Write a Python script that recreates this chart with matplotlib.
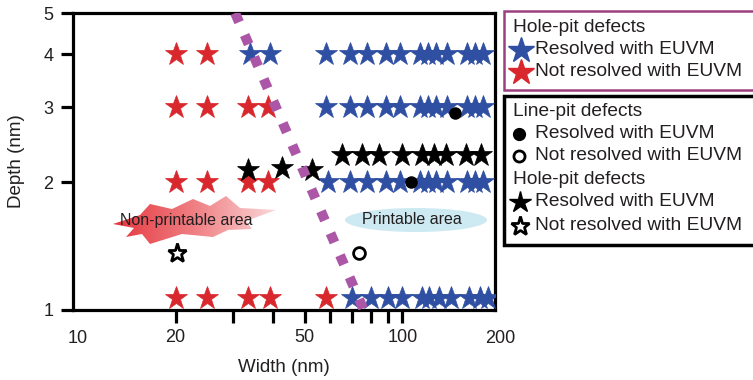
import matplotlib
matplotlib.use('Agg')
import matplotlib.pyplot as plt
import numpy as np
from matplotlib.lines import Line2D
from matplotlib.patches import Polygon, Ellipse, Rectangle
from matplotlib.ticker import FixedLocator, FixedFormatter, NullLocator
from matplotlib.colors import LinearSegmentedColormap
import matplotlib.transforms as mtransforms

plt.rcParams['font.family'] = ['Liberation Sans', 'DejaVu Sans']
TXT = '#231f20'

# ---------------- data ----------------
depth_rows = [4.0, 3.0, 2.0, 1.07]
# hole-pit, resolved with EUVM (blue stars)
blue_w_d4 = [34, 39, 58, 69, 78, 89, 98, 113, 120, 127, 137, 158, 167, 177]
blue_w_d3 = [58, 69, 78, 89, 98, 113, 120, 127, 137, 158, 167, 177]
blue_w_d2 = [59, 69, 78, 89, 98, 113, 120, 127, 137, 158, 167, 177]
blue_w_d1 = [70, 80, 90, 100, 115, 121, 130, 141, 160, 174, 183]
# hole-pit, not resolved (red stars)
red_w_d4 = [20, 25]
red_w_d3 = [20, 25, 33.5, 38.5]
red_w_d2 = [20, 25, 33.5, 38.5]
red_w_d1 = [20, 25, 33.5, 39, 58]
# second data set: hole-pit resolved (black stars)
black_star_w = [33.5, 42.5, 52.5, 65, 75, 85, 100, 115, 125, 136, 157, 175]
black_star_d = [2.14, 2.16, 2.14, 2.32, 2.32, 2.32, 2.32, 2.32, 2.32, 2.32, 2.32, 2.32]
# hole-pit not resolved (open star)
open_star_w = [20.2]
open_star_d = [1.36]
# line-pit resolved (black dots)
dot_w = [145, 106]
dot_d = [2.91, 2.0]
# line-pit not resolved (open circle)
open_dot_w = [73.7]
open_dot_d = [1.36]
# printability boundary
boundary_w = [30.5, 76]
boundary_d = [5.0, 1.0]

x_tick_vals = [20, 30, 40, 50, 60, 70, 80, 90, 100]
x_tick_labels = ['20', '', '', '50', '', '', '', '', '100']
x_edge_labels = ['10', '200']
x_edge_vals = [10, 200]
y_tick_vals = [1, 2, 3, 4, 5]
y_tick_labels = ['1', '2', '3', '4', '5']

BLUE = '#2f4fa2'
RED = '#d8282e'
PURPLE = '#ab56a6'

W, H = 753, 380
fig = plt.figure(figsize=(W / 100, H / 100), dpi=100)
L, R, T, B = 73, 495, 13, 310
ax = fig.add_axes([L / W, 1 - B / H, (R - L) / W, (B - T) / H])
ax.set_xscale('log')
ax.set_yscale('log')

# ---------- decorations (axes coords) ----------
def pa(px, py):
    return ((px - L) / (R - L), (B - py) / (B - T))

burst_px = [(113, 224), (140, 215), (150, 204), (172, 209), (193, 199), (210, 206),
            (226, 196), (240, 208), (276, 210), (246, 221), (252, 229), (228, 230),
            (213, 237), (182, 234), (150, 244), (142, 234), (126, 237), (134, 228)]
burst = Polygon([pa(*p) for p in burst_px], closed=True, transform=ax.transAxes,
                facecolor='none', edgecolor='none')
ax.add_patch(burst)
grad = np.linspace(0, 1, 256).reshape(1, -1)
cmap = LinearSegmentedColormap.from_list('burst', ['#e4343b', '#ef7f83', '#fbd9da'])
x0, y0 = pa(110, 246)
x1, y1 = pa(278, 194)
im = ax.imshow(grad, cmap=cmap, extent=(x0, x1, y0, y1), transform=ax.transAxes,
               aspect='auto', zorder=1, interpolation='bilinear')
im.set_clip_path(burst)

ec, ey = pa(416, 220)
ell = Ellipse((ec, ey), 142 / (R - L), 24 / (B - T), transform=ax.transAxes,
              facecolor='#cde9f1', edgecolor='none', zorder=1)
ax.add_patch(ell)

tx, ty = pa(186, 220)
ax.text(tx, ty, 'Non-printable area', transform=ax.transAxes, ha='center', va='center',
        fontsize=11.5, color=TXT, zorder=2)
tx, ty = pa(412, 219)
ax.text(tx, ty, 'Printable area', transform=ax.transAxes, ha='center', va='center',
        fontsize=11.5, color=TXT, zorder=2)

# ---------- data marks ----------
star_ms = 17
for ws, d in zip([red_w_d4, red_w_d3, red_w_d2, red_w_d1], depth_rows):
    ax.plot(ws, [d] * len(ws), linestyle='none', marker='*', ms=star_ms,
            color=RED, mec=RED, mew=0.5, zorder=3)
for ws, d in zip([blue_w_d4, blue_w_d3, blue_w_d2, blue_w_d1], depth_rows):
    ax.plot(ws, [d] * len(ws), linestyle='none', marker='*', ms=star_ms,
            color=BLUE, mec=BLUE, mew=0.5, zorder=3)
ax.plot(black_star_w, black_star_d, linestyle='none', marker='*', ms=star_ms,
        color='black', mec='black', mew=0.5, zorder=4)
ax.plot(open_star_w, open_star_d, linestyle='none', marker='*', ms=14,
        mfc='white', mec='black', mew=2.0, zorder=4)
ax.plot(dot_w, dot_d, linestyle='none', marker='o', ms=8,
        color='black', zorder=5)
ax.plot(open_dot_w, open_dot_d, linestyle='none', marker='o', ms=8.5,
        mfc='white', mec='black', mew=2.0, zorder=5)

ax.plot(boundary_w, boundary_d, color=PURPLE, lw=7.2, dashes=(1.0, 1.4),
        solid_capstyle='butt', dash_capstyle='butt', zorder=6)

# ---------- axes ----------
ax.set_xlim(9.65, 193)
ax.set_ylim(1, 5)
for s in ax.spines.values():
    s.set_linewidth(2.3)
ax.xaxis.set_major_locator(FixedLocator(x_tick_vals))
ax.xaxis.set_major_formatter(FixedFormatter(x_tick_labels))
ax.xaxis.set_minor_locator(NullLocator())
ax.yaxis.set_major_locator(FixedLocator(y_tick_vals))
ax.yaxis.set_major_formatter(FixedFormatter(y_tick_labels))
ax.yaxis.set_minor_locator(NullLocator())
ax.tick_params(axis='both', direction='out', length=9, width=2.3, colors='black',
               labelcolor=TXT, labelsize=13)
ax.tick_params(axis='x', pad=5)
ax.tick_params(axis='y', pad=5)
for t in ax.yaxis.get_major_ticks():
    if t.get_loc() in (1, 5):
        t.tick1line.set_visible(False)
trans = mtransforms.blended_transform_factory(ax.transData, ax.transAxes)
for v, lab in zip(x_edge_vals, x_edge_labels):
    ax.text(v, -28.3 / (B - T), lab, transform=trans, ha='center', va='center',
            fontsize=13, color=TXT, clip_on=False)

ax.set_xlabel('Width (nm)', fontsize=13.5, color=TXT, labelpad=9)
ax.set_ylabel('Depth (nm)', fontsize=13.5, color=TXT, labelpad=13)

# ---------- legends (figure coords) ----------
def pf(px, py):
    return (px / W, 1 - py / H)

r1 = Rectangle(pf(504, 90), 300 / W, 79 / H, transform=fig.transFigure,
               facecolor='white', edgecolor='#9c3f80', lw=1.8, clip_on=False)
r2 = Rectangle(pf(504, 245), 300 / W, 149 / H, transform=fig.transFigure,
               facecolor='white', edgecolor='black', lw=2.5, clip_on=False)
fig.add_artist(r1)
fig.add_artist(r2)

LEG_FS = 13.8

def leg_text(px, py, s):
    x, y = pf(px, py)
    fig.text(x, y, s, ha='left', va='center', fontsize=LEG_FS, color=TXT)

def leg_mark(px, py, **kw):
    x, y = pf(px, py)
    fig.add_artist(Line2D([x], [y], transform=fig.transFigure, linestyle='none', **kw))

leg_text(513, 27, 'Hole-pit defects')
leg_mark(521, 50, marker='*', ms=19, color=BLUE, mec=BLUE)
leg_text(535, 50, 'Resolved with EUVM')
leg_mark(521, 72, marker='*', ms=19, color=RED, mec=RED)
leg_text(535, 72, 'Not resolved with EUVM')

leg_text(513, 112, 'Line-pit defects')
leg_mark(519, 134, marker='o', ms=8.5, color='black')
leg_text(535, 134, 'Resolved with EUVM')
leg_mark(519, 156, marker='o', ms=8, mfc='white', mec='black', mew=2)
leg_text(535, 156, 'Not resolved with EUVM')
leg_text(513, 179, 'Hole-pit defects')
leg_mark(520, 202, marker='*', ms=16, color='black')
leg_text(535, 202, 'Resolved with EUVM')
leg_mark(520, 226, marker='*', ms=14, mfc='white', mec='black', mew=2)
leg_text(535, 226, 'Not resolved with EUVM')

fig.savefig('out.png', dpi=100)
